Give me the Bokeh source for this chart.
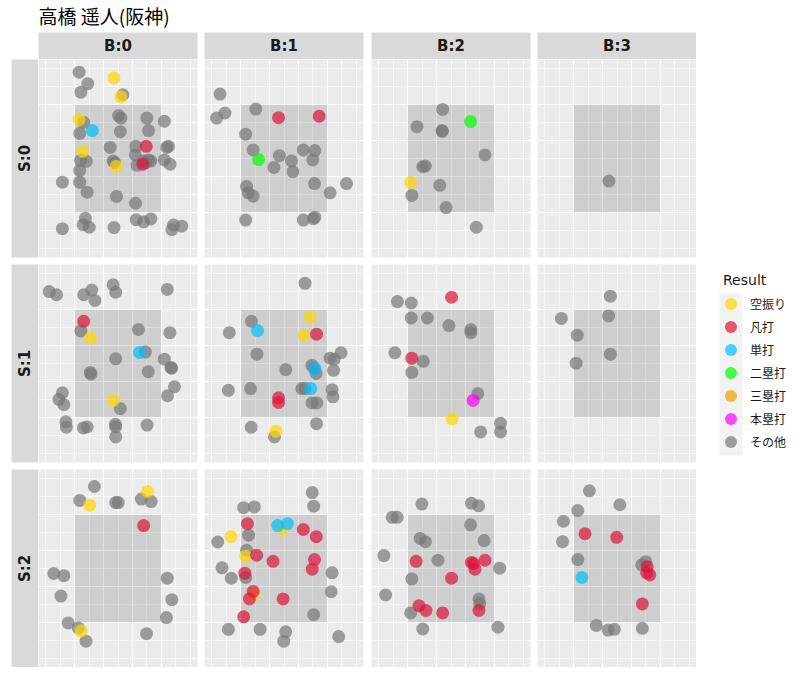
import math
from bokeh.plotting import figure
from bokeh.layouts import gridplot, column, row
from bokeh.models import (Range1d, FixedTicker, Grid, Label, Legend, LegendItem,
                          BoxAnnotation, ColumnDataSource)
from bokeh.embed import file_html
from bokeh.resources import INLINE

TITLE = "高橋 遥人(阪神)"
BALL_LABELS = ["B:0", "B:1", "B:2", "B:3"]
STRIKE_LABELS = ["S:0", "S:1", "S:2"]
RESULTS = ["空振り", "凡打", "単打", "二塁打", "三塁打", "本塁打", "その他"]
COLORS = ["gold", "crimson", "deepskyblue", "lime", "#EFA000", "magenta", "#777777"]

# pitches: (balls, strikes, horizontal location, vertical location); zone spans -1.5..1.5
SWING_MISS = [
    (0, 0, -0.14, 2.25), (0, 0, 0.10, 1.72), (0, 0, -1.35, 1.09), (0, 0, -1.23, 0.20), (0, 0, -0.06, -0.22),
    (2, 0, -1.40, -0.67),
    (0, 1, -0.95, 0.71), (0, 1, -0.16, -1.03),
    (1, 1, 0.91, 1.30), (1, 1, 0.69, 0.79), (1, 1, -0.28, -1.89),
    (2, 1, 0.04, -1.55),
    (0, 2, -0.98, 1.77), (0, 2, 1.03, 2.15), (0, 2, -1.28, -1.74),
    (1, 2, -1.84, 0.89), (1, 2, -0.05, 1.11), (1, 2, -1.33, 0.34), (1, 2, -1.05, -0.73),
]
OUT = [
    (0, 0, 0.98, 0.34), (0, 0, 0.86, -0.16),
    (1, 0, -0.19, 1.14), (1, 0, 1.22, 1.18),
    (0, 1, -1.19, 1.18),
    (1, 1, 1.13, 0.82), (1, 1, -0.19, -0.96), (1, 1, -0.19, -1.09),
    (2, 1, 0.02, 1.85), (2, 1, -1.36, 0.15),
    (0, 2, 0.89, 1.20),
    (1, 2, -1.27, 1.25), (1, 2, -0.95, 0.37), (1, 2, -0.38, 0.20), (1, 2, 0.67, 1.09), (1, 2, 1.12, 0.89),
    (1, 2, 1.06, 0.25), (1, 2, 0.98, -0.02), (1, 2, -1.36, -0.13), (1, 2, -1.07, -0.64), (1, 2, -1.20, -0.85),
    (1, 2, -0.03, -0.85), (1, 2, -1.40, -1.35),
    (2, 2, -1.21, 0.20), (2, 2, 0.71, 0.17), (2, 2, 0.78, 0.14), (2, 2, 0.83, -0.02), (2, 2, 1.18, 0.23),
    (2, 2, 0.02, -0.27), (2, 2, -1.11, -1.04), (2, 2, -0.87, -1.17), (2, 2, -0.29, -1.24), (2, 2, 0.97, -1.17),
    (3, 2, -1.11, 0.97), (3, 2, -0.01, 0.87), (3, 2, 1.05, 0.05), (3, 2, 1.03, -0.12), (3, 2, 1.14, -0.18),
    (3, 2, 0.88, -0.99),
]
SINGLE = [
    (0, 0, -0.89, 0.78),
    (0, 1, 0.75, 0.31),
    (1, 1, -0.92, 0.92), (1, 1, 1.07, -0.15), (1, 1, 0.93, -0.70),
    (1, 2, -0.22, 1.20), (1, 2, 0.12, 1.25),
    (3, 2, -1.22, -0.25),
]
DOUBLE = [(1, 0, -0.88, -0.03), (2, 0, 0.68, 1.03)]
TRIPLE = []
HOMER = [(2, 1, 0.77, -1.03)]
OTHER = [
    # B:0 S:0
    (0, 0, -1.35, 2.41), (0, 0, -1.05, 2.09), (0, 0, -1.29, 1.85), (0, 0, 0.17, 1.78), (0, 0, 0.02, 1.20),
    (0, 0, 0.10, 1.13), (0, 0, 1.00, 1.13), (0, 0, 1.61, 1.04), (0, 0, 0.08, 0.75), (0, 0, 1.06, 0.78),
    (0, 0, -1.33, 0.70), (0, 0, -1.19, 1.01), (0, 0, -0.27, 0.31), (0, 0, 0.62, 0.34), (0, 0, 1.69, 0.31),
    (0, 0, 1.75, 0.34), (0, 0, -1.30, -0.05), (0, 0, -1.10, -0.08), (0, 0, -0.17, -0.07), (0, 0, -0.12, -0.11),
    (0, 0, 0.60, 0.10), (0, 0, 0.66, -0.19), (0, 0, 0.89, -0.07), (0, 0, 1.06, -0.04), (0, 0, 1.14, -0.07),
    (0, 0, 1.61, -0.04), (0, 0, 1.81, -0.16), (0, 0, -1.33, -0.33), (0, 0, -1.93, -0.66), (0, 0, -1.33, -0.66),
    (0, 0, -1.07, -0.94), (0, 0, -0.05, -1.06), (0, 0, 0.61, -1.25), (0, 0, -1.13, -1.67), (0, 0, -1.21, -1.85),
    (0, 0, -1.00, -1.92), (0, 0, -1.93, -1.96), (0, 0, -0.14, -1.93), (0, 0, 0.63, -1.71), (0, 0, 0.89, -1.77),
    (0, 0, 1.14, -1.69), (0, 0, 1.93, -1.86), (0, 0, 1.87, -1.99), (0, 0, 2.21, -1.89), (0, 0, 0.95, -0.12),
    # B:1 S:0
    (1, 0, -2.22, 1.80), (1, 0, -2.05, 1.27), (1, 0, -2.34, 1.13), (1, 0, -0.98, 1.38), (1, 0, -1.33, 0.68),
    (1, 0, -1.07, 0.24), (1, 0, -0.16, 0.08), (1, 0, 0.26, -0.07), (1, 0, -0.35, -0.25), (1, 0, 0.31, -0.37),
    (1, 0, 0.67, 0.24), (1, 0, 1.07, 0.22), (1, 0, 1.00, -0.04), (1, 0, 1.06, -0.70), (1, 0, 1.60, -0.96),
    (1, 0, 2.17, -0.70), (1, 0, -1.30, -0.78), (1, 0, -1.24, -0.96), (1, 0, -1.07, -1.05), (1, 0, -1.33, -1.72),
    (1, 0, 0.67, -1.72), (1, 0, 1.02, -1.68), (1, 0, 1.07, -1.64),
    # B:2 S:0
    (2, 0, -0.29, 1.37), (2, 0, -1.18, 0.89), (2, 0, -0.31, 0.78), (2, 0, -0.30, 0.76), (2, 0, 1.18, 0.10),
    (2, 0, -0.98, -0.23), (2, 0, -0.89, -0.21), (2, 0, -0.39, -0.75), (2, 0, -1.36, -1.03), (2, 0, -0.17, -1.37),
    (2, 0, 0.88, -1.92),
    # B:3 S:0
    (3, 0, -0.28, -0.63),
    # B:0 S:1
    (0, 1, -2.39, 2.01), (0, 1, -2.13, 1.92), (0, 1, -1.19, 1.92), (0, 1, -0.91, 2.05), (0, 1, -0.80, 1.76),
    (0, 1, -0.17, 2.20), (0, 1, -0.08, 1.99), (0, 1, 1.71, 2.07), (0, 1, -1.29, 0.91), (0, 1, 0.71, 0.95),
    (0, 1, 1.80, 0.86), (0, 1, 0.95, 0.32), (0, 1, -0.08, 0.13), (0, 1, 1.61, 0.12), (0, 1, 1.84, -0.11),
    (0, 1, 1.86, -0.13), (0, 1, 1.05, -0.23), (0, 1, -0.96, -0.25), (0, 1, -0.94, -0.30), (0, 1, -1.93, -0.82),
    (0, 1, -2.05, -1.00), (0, 1, -1.88, -1.15), (0, 1, 1.96, -0.65), (0, 1, 1.72, -0.90), (0, 1, 0.08, -1.26),
    (0, 1, -1.81, -1.63), (0, 1, -1.79, -1.78), (0, 1, -1.20, -1.80), (0, 1, -1.07, -1.77), (0, 1, -0.09, -1.70),
    (0, 1, -0.08, -1.77), (0, 1, -0.08, -2.05), (0, 1, 1.01, -1.72),
    # B:1 S:1
    (1, 1, 0.73, 2.24), (1, 1, -1.90, 0.86), (1, 1, -1.13, 1.18), (1, 1, -0.94, 0.26), (1, 1, 0.06, -0.17),
    (1, 1, -1.93, -0.75), (1, 1, -1.16, -0.70), (1, 1, 0.97, -0.05), (1, 1, 1.12, -0.28), (1, 1, 1.60, 0.15),
    (1, 1, 1.74, 0.12), (1, 1, 1.98, 0.30), (1, 1, 1.72, -0.19), (1, 1, 0.62, -0.70), (1, 1, 0.73, -0.70),
    (1, 1, 1.67, -0.73), (1, 1, 1.70, -0.93), (1, 1, 0.97, -1.10), (1, 1, 1.14, -1.10), (1, 1, -1.14, -1.78),
    (1, 1, 1.13, -1.68), (1, 1, -0.33, -2.05), (1, 1, 1.05, -0.13),
    # B:2 S:1
    (2, 1, -1.86, 1.73), (2, 1, -1.38, 1.69), (2, 1, -1.38, 1.27), (2, 1, -0.82, 1.27), (2, 1, -0.07, 1.06),
    (2, 1, 0.69, 0.95), (2, 1, 0.69, 0.86), (2, 1, -1.95, 0.30), (2, 1, -0.96, 0.06), (2, 1, -1.36, -0.25),
    (2, 1, 0.93, -0.84), (2, 1, 1.03, -1.91), (2, 1, 1.72, -1.67), (2, 1, 1.72, -1.91),
    # B:3 S:1
    (3, 1, -0.23, 1.88), (3, 1, -0.29, 1.33), (3, 1, -1.93, 1.26), (3, 1, -1.38, 0.79), (3, 1, -0.23, 0.26),
    (3, 1, -1.42, 0.01),
    # B:0 S:2
    (0, 2, -0.82, 2.29), (0, 2, -1.33, 1.90), (0, 2, -0.08, 1.84), (0, 2, 0.01, 1.84), (0, 2, 0.81, 1.94),
    (0, 2, 1.15, 1.87), (0, 2, -2.23, -0.14), (0, 2, -1.88, -0.20), (0, 2, 1.71, -0.27), (0, 2, -1.98, -0.77),
    (0, 2, 1.87, -0.87), (0, 2, 1.68, -1.37), (0, 2, -1.73, -1.52), (0, 2, -1.38, -1.66), (0, 2, -1.11, -2.03),
    (0, 2, 0.99, -1.82),
    # B:1 S:2
    (1, 2, 0.98, 2.12), (1, 2, 1.03, 1.74), (1, 2, -1.40, 1.70), (1, 2, -1.03, 1.72), (1, 2, -1.23, 0.93),
    (1, 2, -2.30, 0.74), (1, 2, -1.30, 0.51), (1, 2, -2.15, 0.02), (1, 2, -1.83, -0.27), (1, 2, -1.33, -0.25),
    (1, 2, 1.67, -0.12), (1, 2, 1.64, -0.65), (1, 2, 1.03, -1.29), (1, 2, -1.93, -1.70), (1, 2, -0.83, -1.70),
    (1, 2, 0.06, -1.77), (1, 2, -0.01, -2.03), (1, 2, 1.90, -1.90),
    # B:2 S:2
    (2, 2, -1.01, 1.80), (2, 2, 0.71, 1.82), (2, 2, 0.96, 1.75), (2, 2, -2.04, 1.43), (2, 2, -1.87, 1.43),
    (2, 2, 0.68, 1.22), (2, 2, -1.07, 0.84), (2, 2, -0.89, 0.75), (2, 2, 1.15, 0.78), (2, 2, -2.33, 0.36),
    (2, 2, -0.45, 0.23), (2, 2, 1.69, 0.01), (2, 2, -1.36, -0.29), (2, 2, -2.27, -0.74), (2, 2, 0.97, -0.85),
    (2, 2, 1.00, -0.98), (2, 2, -1.40, -1.24), (2, 2, -0.98, -1.69), (2, 2, 1.63, -1.64),
    # B:3 S:2
    (3, 2, -0.96, 2.17), (3, 2, 0.10, 1.78), (3, 2, -1.36, 1.62), (3, 2, -1.86, 1.32), (3, 2, -1.89, 0.75),
    (3, 2, -1.36, 0.25), (3, 2, 1.00, 0.19), (3, 2, 0.86, 0.10), (3, 2, -0.72, -1.59), (3, 2, -0.31, -1.72),
    (3, 2, -0.09, -1.70), (3, 2, 0.88, -1.67),
]
SERIES = [SWING_MISS, OUT, SINGLE, DOUBLE, TRIPLE, HOMER, OTHER]
DRAW_ORDER = [6, 0, 1, 2, 3, 4, 5]

# ---- layout / style constants ----
PAGE_PAD = 8
ZONE = (-1.5, 1.5, -1.5, 1.5)
X_RANGE = (-2.76, 2.76)
Y_RANGE = (-2.765, 2.765)
MAJOR = [-1.5, -0.5, 0.5, 1.5]
MINOR = [-2.5, -2.0, -1.0, 0.0, 1.0, 2.0, 2.5]
FRAME_W, FRAME_H = 159, 198
COL_GAPS = [7, 8, 7, 0]
ROW_GAPS = [7, 7, 0]
STRIP_H = 27
LSTRIP_W, LSTRIP_PAD = 27, 3 + PAGE_PAD
TITLE_H = 24 + PAGE_PAD
LEG_W = 96
PANEL_BG = "#EBEBEB"
STRIP_BG = "#D9D9D9"
LATIN = "DejaVu Sans"
CJK = "Noto Sans CJK JP"


def base_fig(w, h, xr, yr, bl=0, br=0, bt=0, bb=0, bg="white"):
    f = figure(width=w, height=h, x_range=Range1d(*xr), y_range=Range1d(*yr),
               x_axis_location=None, y_axis_location=None, toolbar_location=None,
               output_backend="svg", title=None,
               min_border_left=bl, min_border_right=br, min_border_top=bt, min_border_bottom=bb,
               background_fill_color=bg, border_fill_color="white", outline_line_color=None)
    f.center = [r for r in f.center if not isinstance(r, Grid)]
    return f


def panel(b, s):
    p = base_fig(FRAME_W + COL_GAPS[b], FRAME_H + ROW_GAPS[s], X_RANGE, Y_RANGE,
                 br=COL_GAPS[b], bb=ROW_GAPS[s], bg=PANEL_BG)
    for dim in (0, 1):
        p.add_layout(Grid(dimension=dim, ticker=FixedTicker(ticks=MAJOR, minor_ticks=MINOR),
                          grid_line_color="white", grid_line_width=1.2,
                          minor_grid_line_color="white", minor_grid_line_width=0.6), "center")
    p.quad(left=ZONE[0], right=ZONE[1], bottom=ZONE[2], top=ZONE[3],
           fill_color="black", fill_alpha=0.12, line_color=None)
    for k in DRAW_ORDER:
        pts = [(x, y) for (bb_, ss_, x, y) in SERIES[k] if bb_ == b and ss_ == s]
        if not pts:
            continue
        src = ColumnDataSource(dict(x=[q[0] for q in pts], y=[q[1] for q in pts]))
        p.scatter("x", "y", source=src, size=13, fill_color=COLORS[k], fill_alpha=0.7,
                  line_color=None)
    return p


def top_strip(b):
    f = base_fig(FRAME_W + COL_GAPS[b], STRIP_H, (0, 1), (0, 1), br=COL_GAPS[b], bg=STRIP_BG)
    f.add_layout(Label(x=0.5, y=0.5, text=BALL_LABELS[b], text_align="center",
                       text_baseline="middle", text_font=LATIN, text_font_style="bold",
                       text_font_size="15px", text_color="#1A1A1A"))
    return f


def left_strip(s):
    f = base_fig(LSTRIP_W + LSTRIP_PAD, FRAME_H + ROW_GAPS[s], (0, 1), (0, 1),
                 bl=LSTRIP_PAD, bb=ROW_GAPS[s], bg=STRIP_BG)
    f.add_layout(Label(x=0.5, y=0.5, text=STRIKE_LABELS[s], text_align="center",
                       text_baseline="middle", angle=math.pi / 2, text_font=LATIN,
                       text_font_style="bold", text_font_size="15px", text_color="#1A1A1A"))
    return f


rows = [[None] + [top_strip(b) for b in range(4)]]
for s in range(3):
    rows.append([left_strip(s)] + [panel(b, s) for b in range(4)])
grid = gridplot(rows, toolbar_location=None)

grid_w = LSTRIP_W + LSTRIP_PAD + sum(FRAME_W + g for g in COL_GAPS)
grid_h = STRIP_H + sum(FRAME_H + g for g in ROW_GAPS)

# title
tf = base_fig(grid_w + LEG_W, TITLE_H, (0, grid_w + LEG_W), (TITLE_H, 0))
tf.add_layout(Label(x=38, y=14.5, text=TITLE, text_align="left", text_baseline="middle",
                    text_font=CJK, text_font_size="19px", text_color="black"))

# legend
LEG_TOP = 213
LEG_MARGIN = 27
lf = base_fig(LEG_W, grid_h, (0, LEG_W), (grid_h - LEG_TOP, 0), bt=LEG_TOP)
lf.add_layout(BoxAnnotation(left=23, right=46, top=261 - LEG_TOP, bottom=423 - LEG_TOP,
                            fill_color="#F2F2F2", fill_alpha=1.0, line_color=None, level="underlay"))
items = []
for k, name in enumerate(RESULTS):
    r = lf.ellipse(x=[float("nan")], y=[float("nan")], width=13, height=13,
                   width_units="screen", height_units="screen",
                   fill_color=COLORS[k], fill_alpha=0.7, line_color=None)
    items.append(LegendItem(label=name, renderers=[r]))
leg = Legend(items=items, location="top_left", margin=LEG_MARGIN, padding=0, spacing=0,
             glyph_width=15, glyph_height=23, label_standoff=12, label_height=23,
             title="Result", title_text_font=LATIN, title_text_font_size="14px",
             title_text_font_style="normal", title_text_color="#1A1A1A", title_standoff=4,
             label_text_font=CJK, label_text_font_size="12px", label_text_color="#1A1A1A",
             border_line_color=None, background_fill_alpha=0.0)
lf.add_layout(leg, "center")

page = column(tf, row(grid, lf))

with open("out.html", "w") as fh:
    fh.write(file_html(page, INLINE, title="plot"))
